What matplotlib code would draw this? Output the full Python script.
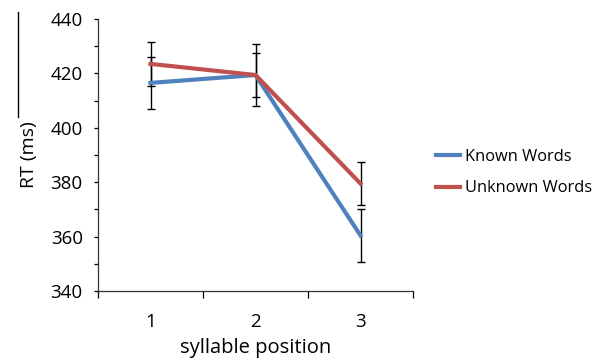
import matplotlib.pyplot as plt
from matplotlib.lines import Line2D

positions = [1, 2, 3]
known = [416.5, 419.4, 360.4]
unknown = [423.5, 419.4, 379.5]
known_err = [9.7, 8.1, 9.9]
unknown_err = [8.0, 11.5, 7.9]

plt.rcParams['font.family'] = ['Open Sans', 'DejaVu Sans']

fig = plt.figure(figsize=(6.04, 3.6), dpi=100)
ax = fig.add_axes([98 / 604, 1 - 291 / 360, 315 / 604, 272 / 360])

ax.errorbar(positions, known, yerr=known_err, fmt='none', ecolor='black',
            elinewidth=1, capsize=3, capthick=1, zorder=1)
ax.errorbar(positions, unknown, yerr=unknown_err, fmt='none', ecolor='black',
            elinewidth=1, capsize=3, capthick=1, zorder=1)
ax.plot(positions, known, color='#4F81BD', lw=3, label='Known Words', zorder=2)
ax.plot(positions, unknown, color='#C0504D', lw=3, label='Unknown Words', zorder=3)

ax.set_xlim(0.5, 3.5)
ax.set_ylim(340, 440)
ax.set_yticks(range(340, 441, 20))
ax.set_yticks(range(350, 440, 20), minor=True)
ax.set_xticks(positions)
ax.set_xticks([0.5, 1.5, 2.5, 3.5], minor=True)

for s in ['top', 'right']:
    ax.spines[s].set_visible(False)
for s in ['left', 'bottom']:
    ax.spines[s].set_linewidth(0.9)
    ax.spines[s].set_color('#333333')

ax.tick_params(axis='y', which='both', length=3, width=0.9, labelsize=13.5, pad=8)
ax.tick_params(axis='x', which='major', length=0, labelsize=13.5, pad=16)
ax.tick_params(axis='x', which='minor', length=5, width=0.9)

ax.set_xlabel('syllable position', fontsize=14.5, labelpad=5)
ax.set_ylabel('RT (ms)', fontsize=14, labelpad=9)

ax.legend(loc='upper left', bbox_to_anchor=(421 / 604, 1 - 134 / 360),
          bbox_transform=fig.transFigure, frameon=False, fontsize=11.8,
          handlelength=1.5, handletextpad=0.3, labelspacing=0.95)

# stray vertical rule above the axis label
fig.add_artist(Line2D([18 / 604, 18 / 604], [1 - 12 / 360, 1 - 117 / 360],
                      color='black', lw=1))

fig.savefig('out.png', dpi=100)
